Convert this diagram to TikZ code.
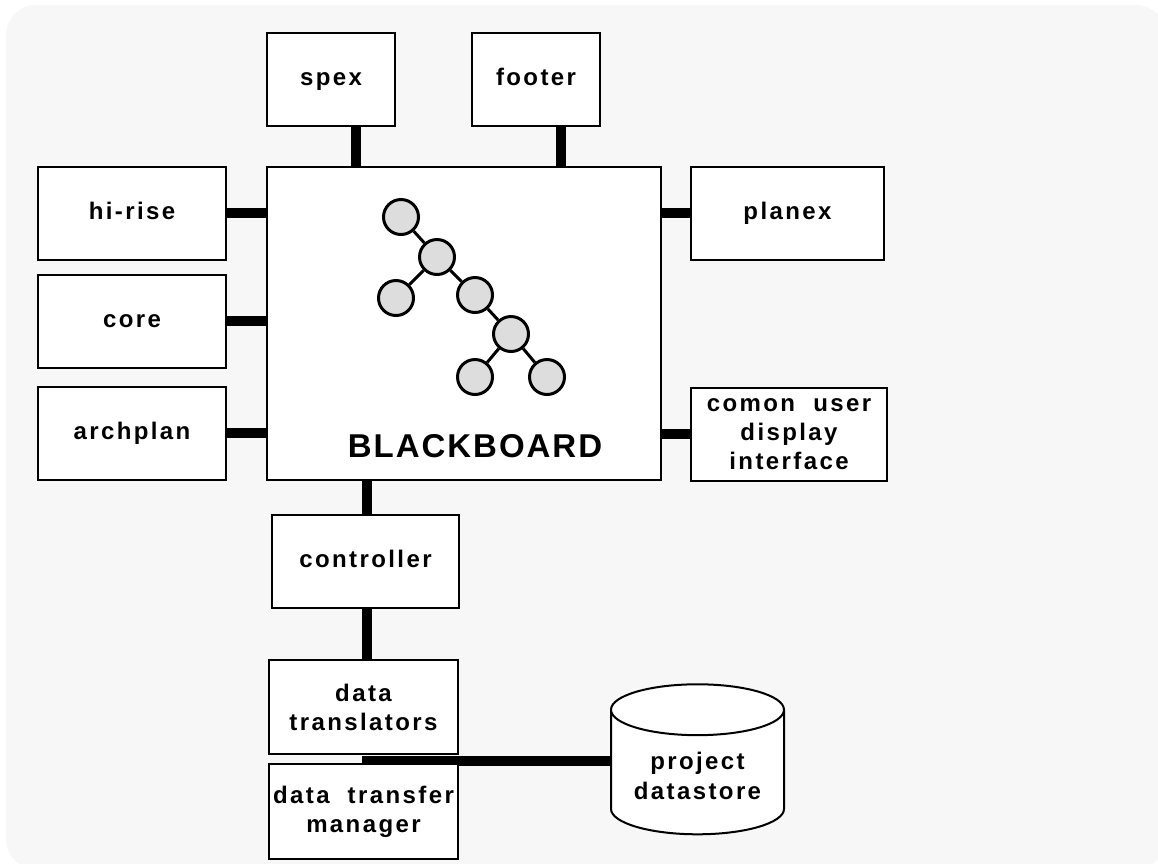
\documentclass[tikz,border=0pt]{standalone}
\usepackage{fontspec}
\setmainfont{Liberation Sans}
\newfontfamily\boxfont{Liberation Sans}[LetterSpace=10]
\newfontfamily\bbfont{Liberation Sans}[LetterSpace=6]
\usetikzlibrary{shapes.geometric,backgrounds}

\begin{document}
\begin{tikzpicture}[x=1pt, y=-1pt,
		module/.style={draw, line width=2pt, fill=white, minimum width=188pt, minimum height=93pt,
			inner sep=0pt, align=center, font=\boxfont\bfseries\fontsize{24}{29}\selectfont},
		oneline/.style={text height=17pt, text depth=5pt},
		link/.style={line width=10pt},
		leaf/.style={circle, draw, line width=3pt, fill=gray!27, minimum size=35pt, inner sep=0pt},
		branch/.style={line width=3pt}]
		\useasboundingbox (0,0) rectangle (1158,863);
		
		% Blackboard and knowledge modules
		\node[module, minimum width=394pt, minimum height=313pt] (bb) at (464,323.5) {};
		\node[font=\bbfont\bfseries\fontsize{33}{38}\selectfont] (bbtext) at (475,446) {BLACKBOARD};
		\node[module, oneline, minimum width=128pt] (spex) at (331,79.5) {spex};
		\node[module, oneline, minimum width=128pt] (footer) at (536,79.5) {footer};
		\node[module, oneline] (hirise) at (132,213) {hi-rise};
		\node[module, oneline] (core) at (132,321) {core};
		\node[module, oneline] (archplan) at (132,433) {archplan};
		\node[module, oneline, minimum width=193pt] (planex) at (787.5,213) {planex};
		\node[module, minimum width=196pt] (comon) at (789,434) {comon~ user\\display\\interface};
		
		% Control and data path
		\node[module, oneline, minimum width=187pt] (controller) at (365.5,561) {controller};
		\node[module, minimum width=189pt, minimum height=94pt] (translators) at (363.5,707) {data\\translators};
		\node[module, minimum width=189pt, minimum height=95pt] (transfer) at (363.5,811.5) {data~ transfer\\manager};
		\node[cylinder, shape border rotate=90, aspect=0.38, draw, line width=2pt, fill=white,
			minimum width=173pt, minimum height=150pt, align=center,
			font=\boxfont\bfseries\fontsize{24}{30}\selectfont] (db) at (697.5,776) {project\\datastore};
		
		% Tree on the blackboard
		\foreach \name/\pos in {N_1/{401,217}, N_2/{437,257}, N_3/{396,298}, N_4/{475,295},
			N_5/{511,334}, N_6/{475,377}, N_7/{547,377}}
			\node[leaf] (\name) at (\pos) {};
		\foreach \a/\b in {N_1/N_2, N_2/N_3, N_2/N_4, N_4/N_5, N_5/N_6, N_5/N_7}
			\draw[branch] (\a) -- (\b);
		
		% Connectors
		\coordinate (spexlink) at ([xshift=25pt]spex.south);
		\coordinate (footerlink) at ([xshift=25pt]footer.south);
		\coordinate (join) at (362,761);
		\begin{pgfonlayer}{background}
			\fill[gray!6, rounded corners=30pt] (6,5) rectangle (1166,869);
			\draw[link] (spexlink) -- (spexlink |- bb.north);
			\draw[link] (footerlink) -- (footerlink |- bb.north);
			\foreach \m in {hirise, core, archplan}
				\draw[link] (\m.east) -- (\m.east -| bb.west);
			\foreach \m in {planex, comon}
				\draw[link] (\m.west) -- (\m.west -| bb.east);
			\draw[link] ([xshift=1.5pt]controller.north) -- ([xshift=1.5pt]controller.north |- bb.south);
			\draw[link] ([xshift=1.5pt]controller.south) -- ([xshift=1.5pt]controller.south |- translators.north);
			\draw[link] (join) -- (join -| db.west);
		\end{pgfonlayer}
	\end{tikzpicture}
\end{document}
